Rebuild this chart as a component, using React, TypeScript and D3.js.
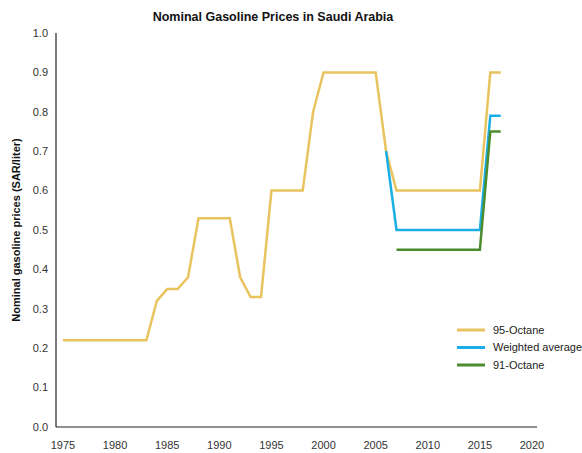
import React from 'react'
import * as d3 from 'd3'

// Nominal gasoline prices, SAR per liter
const years = [
  1975, 1976, 1977, 1978, 1979, 1980, 1981, 1982, 1983, 1984, 1985, 1986, 1987, 1988, 1989,
  1990, 1991, 1992, 1993, 1994, 1995, 1996, 1997, 1998, 1999, 2000, 2001, 2002, 2003, 2004,
  2005, 2006, 2007, 2008, 2009, 2010, 2011, 2012, 2013, 2014, 2015, 2016, 2017,
]
const octane95 = [
  0.22, 0.22, 0.22, 0.22, 0.22, 0.22, 0.22, 0.22, 0.22, 0.32, 0.35, 0.35, 0.38, 0.53, 0.53,
  0.53, 0.53, 0.38, 0.33, 0.33, 0.6, 0.6, 0.6, 0.6, 0.8, 0.9, 0.9, 0.9, 0.9, 0.9,
  0.9, 0.7, 0.6, 0.6, 0.6, 0.6, 0.6, 0.6, 0.6, 0.6, 0.6, 0.9, 0.9,
]
const avgYears = [2006, 2007, 2008, 2009, 2010, 2011, 2012, 2013, 2014, 2015, 2016, 2017]
const weightedAvg = [0.7, 0.5, 0.5, 0.5, 0.5, 0.5, 0.5, 0.5, 0.5, 0.5, 0.79, 0.79]
const o91Years = [2007, 2008, 2009, 2010, 2011, 2012, 2013, 2014, 2015, 2016, 2017]
const octane91 = [0.45, 0.45, 0.45, 0.45, 0.45, 0.45, 0.45, 0.45, 0.45, 0.75, 0.75]

const xTicks = [1975, 1980, 1985, 1990, 1995, 2000, 2005, 2010, 2015, 2020]
const yTicks = [0, 0.1, 0.2, 0.3, 0.4, 0.5, 0.6, 0.7, 0.8, 0.9, 1.0]

const seriesNames = ['95-Octane', 'Weighted average', '91-Octane']
const colors = ['#e8c35e', '#1aaee6', '#4c8c2f']

const font = '"Liberation Sans", Arial, Helvetica, sans-serif'

export default function App() {
  const width = 582
  const height = 453

  const x = d3.scaleLinear().domain([1975, 2020]).range([63, 532])
  const y = d3.scaleLinear().domain([0, 1]).range([427, 33])

  const line = d3
    .line<[number, number]>()
    .x((d) => x(d[0]))
    .y((d) => y(d[1]))

  const series = [
    d3.zip(years, octane95) as [number, number][],
    d3.zip(avgYears, weightedAvg) as [number, number][],
    d3.zip(o91Years, octane91) as [number, number][],
  ]

  return (
    <svg
      width={width}
      height={height}
      style={{ position: 'absolute', left: 0, top: 0, background: '#fff', fontFamily: font }}
    >
      <text x={273} y={21} textAnchor="middle" fontSize={12.5} fontWeight="bold" fill="#111">
        Nominal Gasoline Prices in Saudi Arabia
      </text>

      {/* ejes */}
      <line x1={56} x2={56} y1={33} y2={427} stroke="#222" strokeWidth={1.2} />
      <line x1={56} x2={537} y1={427} y2={427} stroke="#222" strokeWidth={1.2} />

      {yTicks.map((t) => (
        <text key={t} x={48} y={y(t)} dy="0.35em" textAnchor="end" fontSize={11} fill="#333">
          {d3.format('.1f')(t)}
        </text>
      ))}
      {xTicks.map((t) => (
        <text key={t} x={x(t)} y={449} textAnchor="middle" fontSize={11} fill="#333">
          {t}
        </text>
      ))}

      <text
        transform={`translate(20, ${y(0.5)}) rotate(-90)`}
        textAnchor="middle"
        fontSize={11}
        fontWeight="bold"
        fill="#111"
      >
        Nominal gasoline prices (SAR/liter)
      </text>

      {series.map((s, i) => (
        <path key={i} d={line(s) ?? ''} fill="none" stroke={colors[i]} strokeWidth={2.5} />
      ))}

      {/* leyenda */}
      {seriesNames.map((name, i) => (
        <g key={name} transform={`translate(457, ${330 + i * 17.5})`}>
          <line x1={0} x2={28} y1={0} y2={0} stroke={colors[i]} strokeWidth={3} />
          <text x={36} y={0} dy="0.35em" fontSize={11} fill="#222">
            {name}
          </text>
        </g>
      ))}
    </svg>
  )
}
